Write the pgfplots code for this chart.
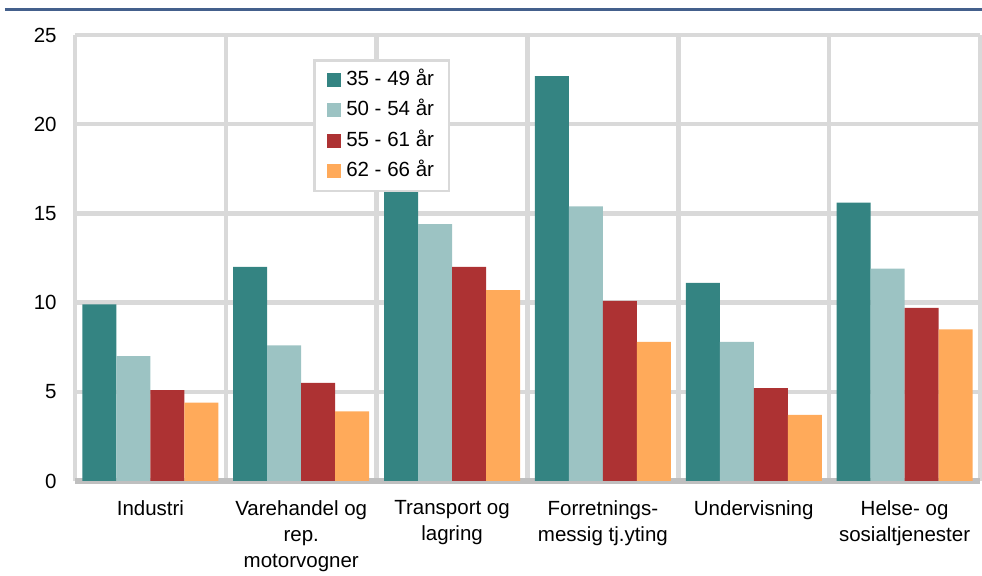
\documentclass[border=0pt]{standalone}
\usepackage{pgfplots}
\pgfplotsset{compat=1.18}
\usepackage{fontspec}
\setmainfont{Liberation Sans}

\definecolor{cTeal}{RGB}{52,132,130}
\definecolor{cLight}{RGB}{156,195,195}
\definecolor{cRed}{RGB}{173,50,51}
\definecolor{cOrange}{RGB}{255,170,90}
\definecolor{gridgray}{RGB}{217,217,217}
\definecolor{basegray}{RGB}{191,191,191}
\definecolor{topblue}{RGB}{68,96,140}

\begin{document}
\begin{tikzpicture}
\begin{axis}[
  at={(0,0)}, anchor=south west,
  scale only axis,
  width=452.5bp, height=223bp,
  ybar=0pt,
  bar width=17bp,
  xmin=-0.5, xmax=5.5,
  ymin=0, ymax=25,
  ytick={0,5,...,25},
  xtick={0,...,5},
  xticklabels={Industri,
    {Varehandel og\\rep.\\motorvogner},
    {Transport og\\lagring},
    {Forretnings-\\messig tj.yting},
    Undervisning,
    {Helse- og\\sosialtjenester}},
  minor xtick={-0.5,0.5,...,5.5},
  xminorgrids=true,
  ymajorgrids=true,
  grid style={draw=gridgray, line width=2.25bp},
  minor grid style={draw=gridgray, line width=2.25bp},
  extra y ticks={0},
  extra y tick labels={},
  extra y tick style={grid style={draw=basegray, line width=2.5bp}},
  axis line style={draw=none},
  major tick length=0pt,
  minor tick length=0pt,
  /pgf/number format/assume math mode=true,
  tick label style={font=\fontsize{10.25bp}{13bp}\selectfont},
  yticklabel style={anchor=east, inner sep=0pt, xshift=-9bp},
  xticklabel style={anchor=north, inner sep=0pt, yshift=-9.5bp, align=center},
  legend cell align=left,
  legend style={
    at={(rel axis cs:0.263,0.946)}, anchor=north west,
    draw=gridgray, line width=1.25bp, fill=white,
    font=\fontsize{10.25bp}{12bp}\selectfont,
    inner xsep=6.5bp, inner ysep=4bp,
    row sep=3.5bp,
    nodes={inner sep=1bp, text height=7.5bp, text depth=2.2bp},
    /tikz/every odd column/.append style={column sep=1.5bp},
  },
  legend image code/.code={\fill[#1] (0bp,-3.5bp) rectangle (7bp,3.5bp);},
]
\addplot[fill=cTeal, draw=none] coordinates {(0,9.9) (1,12.0) (2,16.5) (3,22.7) (4,11.1) (5,15.6)};
\addplot[fill=cLight, draw=none] coordinates {(0,7.0) (1,7.6) (2,14.4) (3,15.4) (4,7.8) (5,11.9)};
\addplot[fill=cRed, draw=none] coordinates {(0,5.1) (1,5.5) (2,12.0) (3,10.1) (4,5.2) (5,9.7)};
\addplot[fill=cOrange, draw=none] coordinates {(0,4.4) (1,3.9) (2,10.7) (3,7.8) (4,3.7) (5,8.5)};
\legend{35 - 49 år, 50 - 54 år, 55 - 61 år, 62 - 66 år}
\end{axis}
\draw[topblue, line width=1.5bp] (-35bp,235.5bp) -- (453.5bp,235.5bp);
\pgfresetboundingbox
\useasboundingbox (-37.5bp,-47.5bp) rectangle (453.5bp,240.5bp);
\end{tikzpicture}
\end{document}
